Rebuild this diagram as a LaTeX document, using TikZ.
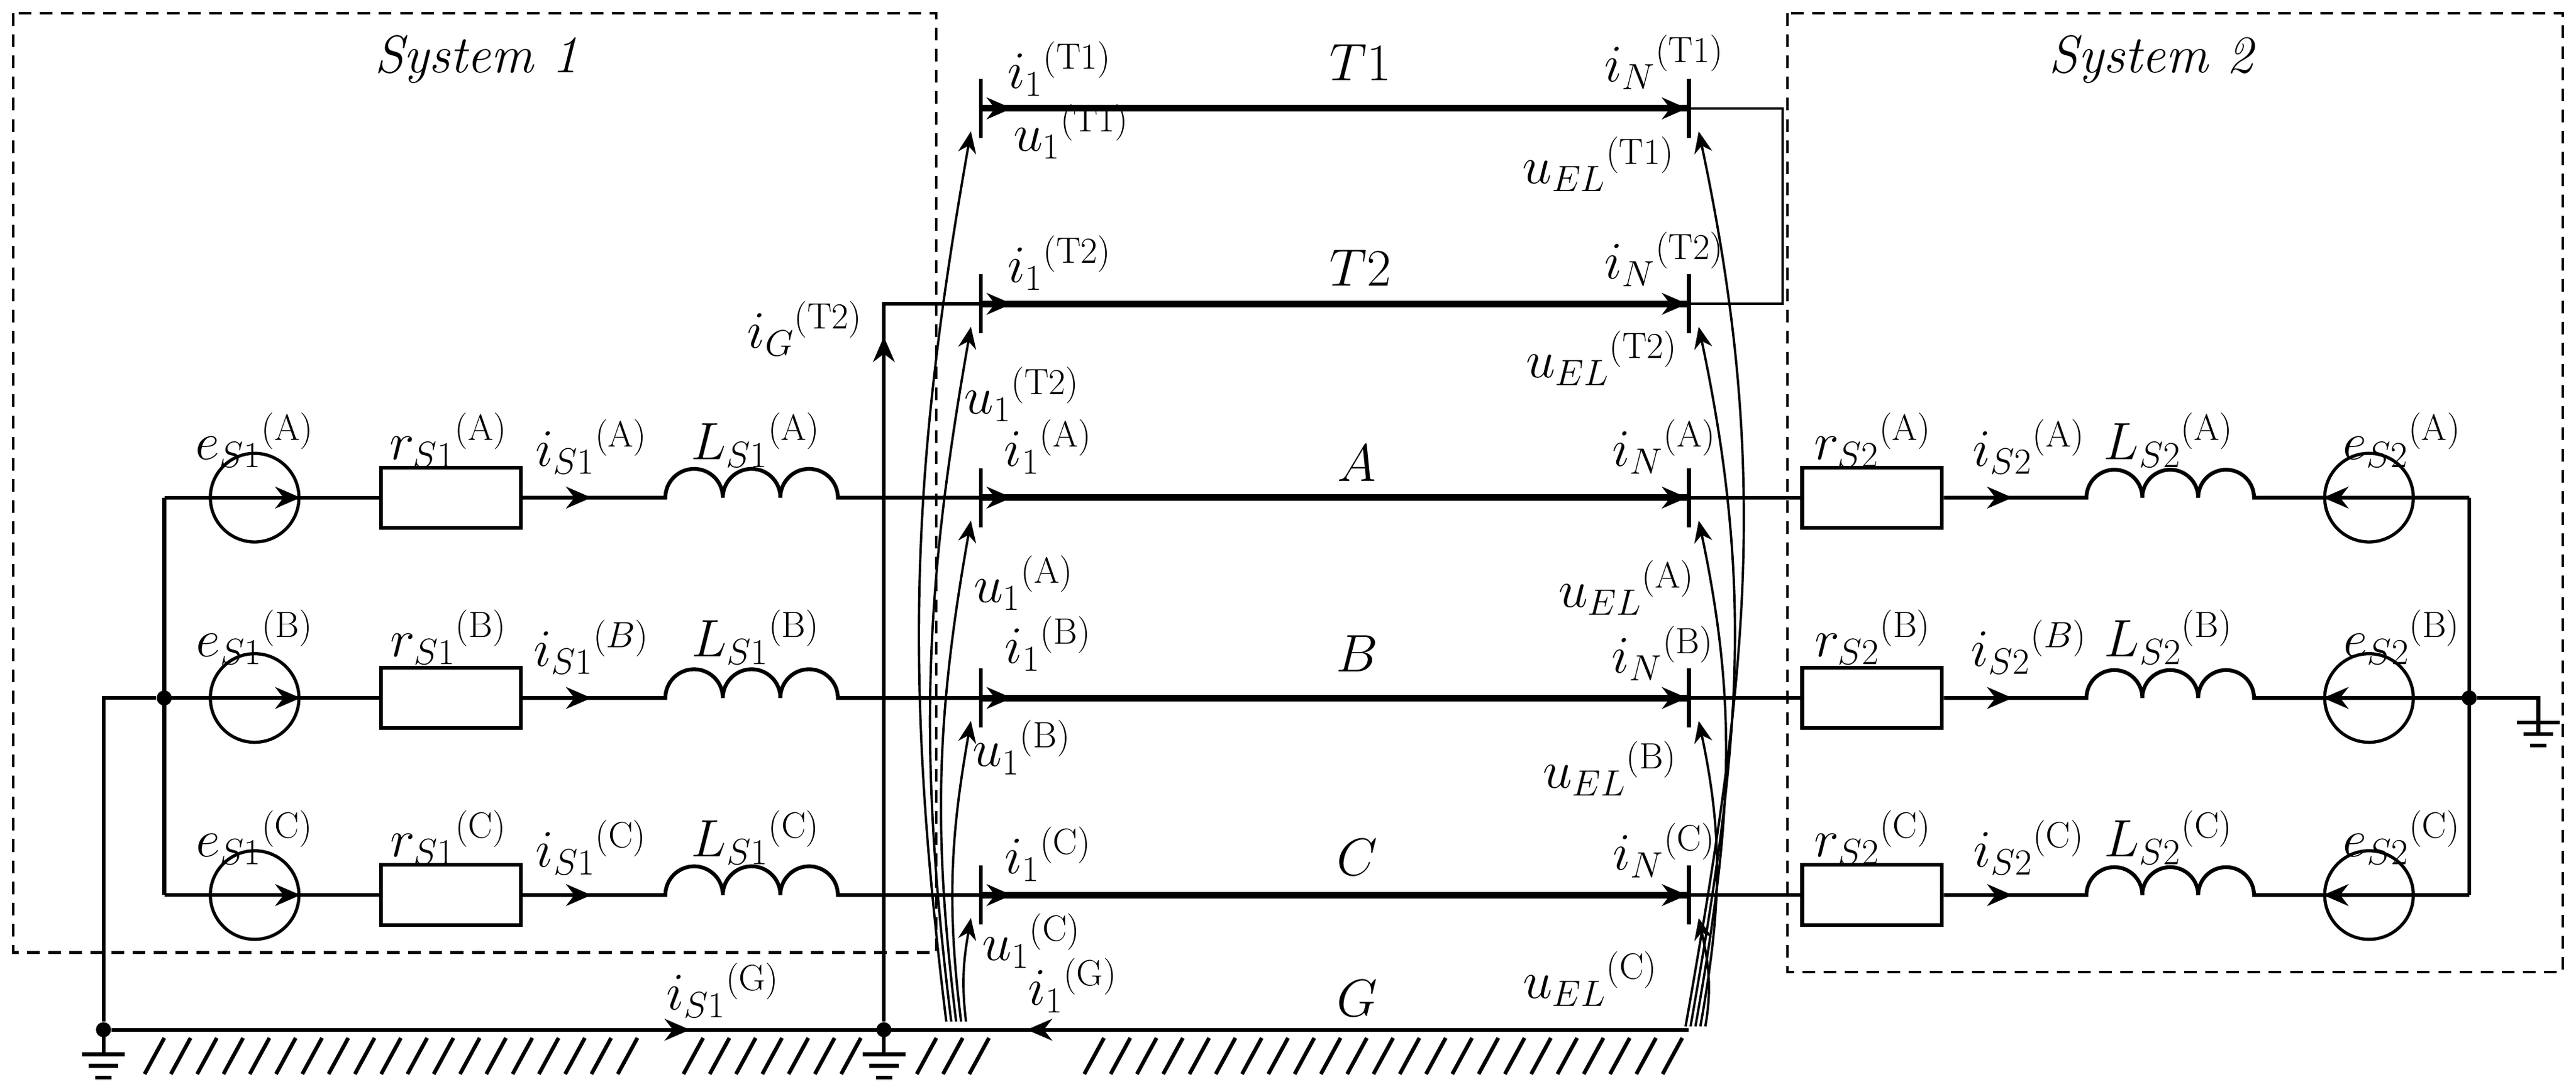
\documentclass[tikz,border=0pt]{standalone}
\usetikzlibrary{arrows.meta}
\newcommand\lb[3]{$#1_{#2}{}^{\mathrm{#3}}$}
\begin{document}
\begin{tikzpicture}[x=0.02725cm,y=0.02725cm,font=\fontsize{25}{30}\selectfont,
  wire/.style={line width=1.8pt},
  busline/.style={line width=3.2pt},
  thinw/.style={line width=1.2pt},
  box/.style={line width=1.2pt,dash pattern=on 6pt off 4pt},
  src/.style={draw,circle,line width=1.5pt,minimum size=1.47cm,inner sep=0pt},
  res/.style={draw,rectangle,line width=1.8pt,minimum width=2.316cm,minimum height=1.0cm,inner sep=0pt},
  tipw/.style={-{Stealth[length=0.42cm,width=0.36cm]},line width=1.8pt},
  tipc/.style={-{Stealth[length=0.36cm,width=0.3cm]},line width=1.1pt},
  dotn/.style={circle,fill,inner sep=0pt,minimum size=0.25cm},
  lbl/.style={inner sep=0pt}]
\useasboundingbox (0,0) rectangle (1568,-663);
% boxes
\draw[box] (8,-8) rectangle (570,-580);
\draw[box] (1088,-8) rectangle (1560,-592);
\node[lbl] (sys1) at (290,-36) {\textit{System 1}};
\node[lbl] (sys2) at (1310,-36) {\textit{System 2}};
% phases
\foreach \p/\y in {A/-303,B/-425,C/-545}{
  \node[src] (eL\p) at (155,\y) {};
  \node[res] (rL\p) at (274.5,\y) {};
  \coordinate (Ls\p) at (405,\y);
  \coordinate (t1\p) at (597,\y);
  \coordinate (tN\p) at (1028,\y);
  \node[res] (rR\p) at (1139.5,\y) {};
  \coordinate (Rs\p) at (1270,\y);
  \node[src] (eR\p) at (1442,\y) {};
  \coordinate (bL\p) at (100,\y);
  \coordinate (bR\p) at (1503,\y);
  \draw[wire] (bL\p) -- (rL\p.west);
  \draw[tipw] (eL\p.center) -- (eL\p.east);
  \draw[wire] (rL\p.east) -- (Ls\p) arc(180:0:17.5) arc(180:0:17.5) arc(180:0:17.5) -- (t1\p);
  \draw[tipw] (335,\y) -- (360,\y);
  \draw[busline] (t1\p) -- (tN\p);
  \draw[wire] (tN\p) -- (rR\p.west);
  \draw[wire] (rR\p.east) -- (Rs\p) arc(180:0:17) arc(180:0:17) arc(180:0:17) -- (bR\p);
  \draw[tipw] (1200,\y) -- (1225,\y);
  \draw[tipw] (eR\p.center) -- (eR\p.west);
}
\coordinate (t1T1) at (597,-66); \coordinate (tNT1) at (1028,-66);
\coordinate (t1T2) at (597,-185); \coordinate (tNT2) at (1028,-185);
\draw[busline] (t1T1) -- (tNT1);
\draw[busline] (t1T2) -- (tNT2);
\foreach \n/\y in {T1/-66,T2/-185,A/-303,B/-425,C/-545}{
  \draw[wire] (597,\y+18) -- (597,\y-18);
  \draw[wire] (1028,\y+18) -- (1028,\y-18);
  \draw[tipw] (600,\y) -- (616,\y);
  \draw[tipw] (1010,\y) -- (1027,\y);
}
% T1 - T2 loop right
\coordinate (loopA) at (1085,-66); \coordinate (loopB) at (1085,-185);
\draw[thinw] (tNT1) -- (loopA) -- (loopB) -- (tNT2);
% left bus and grounds
\node[dotn] (nL) at (100,-425) {};
\node[dotn] (g1) at (63,-627) {};
\node[dotn] (g2) at (538,-627) {};
\node[dotn] (nR) at (1503,-425) {};
\coordinate (gEnd) at (1028,-627);
\draw[wire] (bLA) -- (bLC);
\draw[wire] (nL) -- (63,-425) -- (g1);
\draw[wire] (g1) -- (gEnd);
\draw[wire] (g2) -- (538,-185) -- (t1T2);
\draw[tipw] (538,-240) -- (538,-205);
\draw[wire] (bRA) -- (bRC);
\coordinate (g3) at (1545,-425);
\draw[wire] (nR) -- (g3) -- (1545,-448);
\foreach \gx/\gy in {63/-627,538/-627,1545/-425}{
  \draw[wire] (\gx,\gy) -- (\gx,\gy-15);
  \draw[wire] (\gx-13,\gy-15) -- (\gx+13,\gy-15);
  \draw[wire] (\gx-9,\gy-22) -- (\gx+9,\gy-22);
  \draw[wire] (\gx-5,\gy-29) -- (\gx+5,\gy-29);
}
\draw[tipw] (395,-627) -- (420,-627);
\draw[tipw] (650,-627) -- (625,-627);
% hatching
\foreach \x in {100,116,...,390,428,444,...,524,570,586,602,672,688,...,1024}
  \draw[line width=1.8pt] (\x,-632) -- (\x-12,-654);
% voltage curves
\foreach \y/\i in {-66/0,-185/1,-303/2,-425/3,-545/4}{
  \draw[tipc] (576+3*\i,-622) to[out=97,in=-100] (591,\y-14);
  \draw[tipc] (1026+3*\i,-625) to[out=80,in=-78] (1034,\y-14);
}
% labels
\node[lbl] at (645,-42) {\lb{i}{1}{(T1)}};
\node[lbl] at (828,-38) {$T1$};
\node[lbl] at (1013,-38) {\lb{i}{N}{(T1)}};
\node[lbl] at (652,-80) {\lb{u}{1}{(T1)}};
\node[lbl] at (973,-100) {\lb{u}{EL}{(T1)}};
\node[lbl] at (645,-160) {\lb{i}{1}{(T2)}};
\node[lbl] at (828,-163) {$T2$};
\node[lbl] at (1013,-158) {\lb{i}{N}{(T2)}};
\node[lbl] at (975,-218) {\lb{u}{EL}{(T2)}};
\node[lbl] at (490,-200) {\lb{i}{G}{(T2)}};
\node[lbl] at (622,-240) {\lb{u}{1}{(T2)}};
\node[lbl] at (638,-272) {\lb{i}{1}{(A)}};
\node[lbl] at (826,-282) {$A$};
\node[lbl] at (1013,-272) {\lb{i}{N}{(A)}};
\node[lbl] at (623,-355) {\lb{u}{1}{(A)}};
\node[lbl] at (990,-358) {\lb{u}{EL}{(A)}};
\node[lbl] at (1012,-398) {\lb{i}{N}{(B)}};
\node[lbl] at (638,-392) {\lb{i}{1}{(B)}};
\node[lbl] at (826,-398) {$B$};
\node[lbl] at (622,-455) {\lb{u}{1}{(B)}};
\node[lbl] at (980,-468) {\lb{u}{EL}{(B)}};
\node[lbl] at (638,-520) {\lb{i}{1}{(C)}};
\node[lbl] at (826,-522) {$C$};
\node[lbl] at (1013,-518) {\lb{i}{N}{(C)}};
\node[lbl] at (628,-573) {\lb{u}{1}{(C)}};
\node[lbl] at (968,-596) {\lb{u}{EL}{(C)}};
\node[lbl] at (653,-600) {\lb{i}{1}{(G)}};
\node[lbl] at (826,-608) {$G$};
\node[lbl] at (440,-603) {\lb{i}{S1}{(G)}};
\foreach \y/\q in {-268/(A),-388/(B),-510/(C)}{
  \node[lbl] at (155,\y) {\lb{e}{S1}{\q}};
  \node[lbl] at (273,\y) {\lb{r}{S1}{\q}};
  \node[lbl] at (460,\y) {\lb{L}{S1}{\q}};
  \node[lbl] at (1140,\y) {\lb{r}{S2}{\q}};
  \node[lbl] at (1320,\y) {\lb{L}{S2}{\q}};
  \node[lbl] at (1462,\y) {\lb{e}{S2}{\q}};
}
\node[lbl] at (360,-272) {\lb{i}{S1}{(A)}};
\node[lbl] at (360,-394) {$i_{S1}{}^{(B)}$};
\node[lbl] at (360,-516) {\lb{i}{S1}{(C)}};
\node[lbl] at (1235,-272) {\lb{i}{S2}{(A)}};
\node[lbl] at (1235,-394) {$i_{S2}{}^{(B)}$};
\node[lbl] at (1235,-516) {\lb{i}{S2}{(C)}};
\end{tikzpicture}
\end{document}
